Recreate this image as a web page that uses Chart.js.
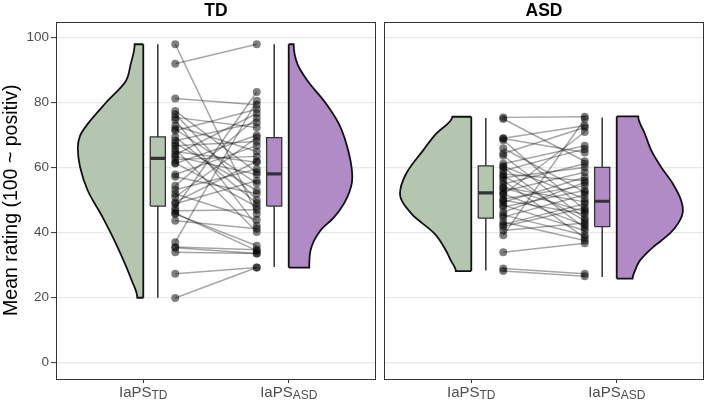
<!DOCTYPE html>
<html>
<head>
<meta charset="utf-8">
<title>Mean rating by group</title>
<script src="https://cdn.jsdelivr.net/npm/chart.js@4.4.1/dist/chart.umd.min.js"></script>
<style>
  html, body { margin: 0; padding: 0; background: #fff; }
  #wrap { position: relative; width: 708px; height: 402px; }
  #wrap canvas { position: absolute; top: 0; }
  #tdPanel { left: 0; }
  #asdPanel { left: 380px; }
</style>
</head>
<body>
<div id="wrap">
  <canvas id="tdPanel" width="380" height="402" style="width:380px;height:402px"></canvas>
  <canvas id="asdPanel" width="328" height="402" style="width:328px;height:402px"></canvas>
</div>
<script>
// Raincloud plot: IaPS ratings for TD and ASD participants

// Axis text
const panelTitles = ['TD', 'ASD'];
const xLabelMain = ['IaPS', 'IaPS'];
const xLabelSub = ['TD', 'ASD'];
const xTickValues = [1, 2];
const ratingTicks = [0, 20, 40, 60, 80, 100];

// Paired mean ratings, TD participants (IaPS_TD -> IaPS_ASD)
const tdRatingTD = [98, 92, 81.3, 77.5, 76.5, 75.5, 74.7, 72.9, 71.9, 71.4,
  69.5, 68.3, 67.5, 66.8, 65.8, 65, 64, 63.5, 62.5, 61.5,
  61.3, 57.9, 57.2, 54.5, 53.2, 52, 51, 49.4, 48.9, 47.6,
  46.8, 46, 45.8, 43.7, 37.1, 35.6, 35.4, 34, 27.4, 19.9];
const tdRatingASD = [45.8, 98, 79.4, 58.6, 50.1, 72.4, 42.2, 65, 55.2, 78,
  49.1, 73.9, 53, 68.1, 40.2, 61.7, 76.7, 57.9, 63.5, 48,
  70, 66.8, 52, 75.3, 59.6, 44, 69.3, 62, 56, 83.3,
  47.1, 34.5, 36, 41.2, 80.6, 34.8, 33.6, 33.6, 29.3, 29.3];

// Paired mean ratings, ASD participants
const asdRatingTD = [75.5, 75, 69.1, 69, 68.5, 66, 64.4, 63.7, 61.2, 60.5,
  60.1, 59.1, 58.1, 57.5, 56.9, 56, 55, 54, 53.8, 52.8,
  52, 51.7, 50.4, 50, 49.4, 48.5, 47.9, 46.3, 45.5, 44.8,
  43.3, 42.5, 41.9, 40.7, 39.2, 34, 29, 28.2];
const asdRatingASD = [75.7, 62, 72.9, 64.7, 47, 52.5, 72.4, 44.5, 66.8, 50.4,
  41.5, 65.8, 56, 43.8, 60.1, 38.5, 61.2, 49.5, 46.5, 58.6,
  42.2, 71, 54.5, 45.8, 57.1, 40.7, 53, 55.5, 39.2, 51.7,
  37.6, 48.9, 47.7, 43, 75, 36.8, 27.4, 26.6];

// Box stats: [lower whisker, q1, median, q3, upper whisker]
const tdBoxTD = [20, 48.2, 62.9, 69.5, 98];
const tdBoxASD = [29.5, 48.2, 58.1, 69.3, 98];
const asdBoxTD = [28.4, 44.5, 52.3, 60.6, 75.3];
const asdBoxASD = [26.4, 41.9, 49.7, 60.1, 75.5];

// Half-violin outlines: rating levels and density half-widths (x units)
const tdViolinTDLevels = [20, 25.4, 35.6, 44.8, 53, 60.3, 65.9, 69.8, 73.5, 80, 86.6, 91.8, 98];
const tdViolinTDWidths = [0.041, 0.08, 0.177, 0.28, 0.382, 0.435, 0.45, 0.435, 0.382, 0.257, 0.121, 0.087, 0.059];
const tdViolinASDLevels = [29.3, 34.6, 40.7, 44.8, 50.9, 57, 64, 73.4, 80, 86.7, 91.8, 98];
const tdViolinASDWidths = [0.141, 0.15, 0.218, 0.312, 0.402, 0.437, 0.416, 0.346, 0.252, 0.13, 0.061, 0.034];
const asdViolinTDLevels = [28.2, 31.5, 34.6, 39.7, 45.8, 52, 58, 65.2, 70.4, 75.7];
const asdViolinTDWidths = [0.106, 0.141, 0.175, 0.252, 0.41, 0.49, 0.45, 0.334, 0.243, 0.13];
const asdViolinASDLevels = [25.9, 28.4, 31.5, 35.6, 39.7, 42.8, 46.8, 49.9, 55, 60.1, 65.2, 70.4, 75.8];
const asdViolinASDWidths = [0.109, 0.126, 0.16, 0.25, 0.364, 0.421, 0.455, 0.443, 0.387, 0.307, 0.239, 0.194, 0.148];

// Layout / style
const X_VIOLIN = [1, 2];
const X_BOX = [1.1, 1.9];
const X_POINT = [1.22, 1.78];
const BOX_HALF = 0.052;
const GREEN = '#b4c6b0';
const PURPLE = '#b08bc5';
const FONT = "'Liberation Sans', Arial, sans-serif";

function violinSets(levels, widths, x0, dir, color) {
  const last = levels.length - 1;
  const outline = [{x: x0, y: levels[0]}]
    .concat(levels.map((y, i) => ({x: x0 + dir * widths[i], y})))
    .concat([{x: x0, y: levels[last]}]);
  return [
    // monotone along the rating axis keeps the outline smooth without overshoot
    {data: outline, indexAxis: 'y', cubicInterpolationMode: 'monotone',
      fill: 'shape', backgroundColor: color, borderColor: '#111', borderWidth: 1.8, order: 8},
    {data: [{x: x0, y: levels[0]}, {x: x0, y: levels[last]}],
      borderColor: '#111', borderWidth: 1.8, order: 7},
  ];
}

function boxSets(stats, xc, color) {
  const [lo, q1, med, q3, hi] = stats;
  const l = xc - BOX_HALF, r = xc + BOX_HALF;
  return [
    {data: [{x: xc, y: lo}, {x: xc, y: q1}], borderColor: '#333', borderWidth: 1.5, order: 6},
    {data: [{x: xc, y: q3}, {x: xc, y: hi}], borderColor: '#333', borderWidth: 1.5, order: 6},
    {data: [{x: l, y: q1}, {x: r, y: q1}, {x: r, y: q3}, {x: l, y: q3}, {x: l, y: q1}],
      fill: 'shape', backgroundColor: color, borderColor: '#333', borderWidth: 1.3, order: 5},
    {data: [{x: l, y: med}, {x: r, y: med}], borderColor: '#333', borderWidth: 3.2, order: 4},
  ];
}

function pairSets(left, right) {
  const lines = left.map((a, i) => ({
    data: [{x: X_POINT[0], y: a}, {x: X_POINT[1], y: right[i]}],
    borderColor: 'rgba(0, 0, 0, 0.35)', borderWidth: 1.5, order: 2,
  }));
  const dots = {
    data: left.map(v => ({x: X_POINT[0], y: v})).concat(right.map(v => ({x: X_POINT[1], y: v}))),
    showLine: false, pointRadius: 4, pointBorderWidth: 0,
    pointBackgroundColor: 'rgba(0, 0, 0, 0.5)', order: 1,
  };
  return lines.concat([dots]);
}

// Panel frame
const panelBorder = {
  id: 'panelBorder',
  afterDraw(chart) {
    const {ctx, chartArea: a} = chart;
    ctx.save();
    ctx.strokeStyle = '#333';
    ctx.lineWidth = 1;
    ctx.strokeRect(Math.round(a.left) + 0.5, Math.round(a.top) + 0.5,
      Math.round(a.width) - 1, Math.round(a.height) - 1);
    ctx.restore();
  }
};

// x labels with subscripts (IaPS_TD, IaPS_ASD)
const subLabels = {
  id: 'subLabels',
  afterDraw(chart) {
    const {ctx, scales: {x}, chartArea} = chart;
    const base = chartArea.bottom + 17.5;
    xTickValues.forEach((v, i) => {
      const px = x.getPixelForValue(v);
      ctx.save();
      ctx.fillStyle = '#4d4d4d';
      ctx.textBaseline = 'alphabetic';
      ctx.textAlign = 'left';
      ctx.font = '15px ' + FONT;
      const wMain = ctx.measureText(xLabelMain[i]).width;
      ctx.font = '12px ' + FONT;
      const wSub = ctx.measureText(xLabelSub[i]).width;
      const start = px - (wMain + wSub) / 2;
      ctx.font = '15px ' + FONT;
      ctx.fillText(xLabelMain[i], start, base);
      ctx.font = '12px ' + FONT;
      ctx.fillText(xLabelSub[i], start + wMain, base + 2.5);
      ctx.restore();
    });
  }
};

function buildPanel(id, title, ratings, boxes, violins, showY) {
  const datasets = []
    .concat(violinSets(violins[0][0], violins[0][1], X_VIOLIN[0], -1, GREEN))
    .concat(violinSets(violins[1][0], violins[1][1], X_VIOLIN[1], 1, PURPLE))
    .concat(boxSets(boxes[0], X_BOX[0], GREEN))
    .concat(boxSets(boxes[1], X_BOX[1], PURPLE))
    .concat(pairSets(ratings[0], ratings[1]));

  new Chart(document.getElementById(id), {
    type: 'line',
    data: {datasets},
    plugins: [panelBorder, subLabels],
    options: {
      responsive: false,
      animation: false,
      events: [],
      layout: {padding: showY ? {left: 0, right: 2} : {left: 4, right: 2}},
      elements: {
        point: {radius: 0},
        line: {tension: 0, fill: false},
      },
      plugins: {
        legend: {display: false},
        tooltip: {enabled: false},
        title: {
          display: true,
          text: title,
          fullSize: false,
          color: '#000',
          font: {family: FONT, size: 17.5, weight: 'bold', lineHeight: 1.0},
          padding: {top: 2, bottom: 2},
        },
      },
      scales: {
        x: {
          type: 'linear',
          min: 0.4,
          max: 2.6,
          offset: false,
          afterBuildTicks: s => { s.ticks = xTickValues.map(v => ({value: v})); },
          afterFit: s => { s.height = 23; },
          border: {display: false},
          grid: {drawOnChartArea: false, drawTicks: true, tickLength: 4, tickColor: '#333', tickWidth: 1},
          ticks: {callback: () => ''},
        },
        y: {
          type: 'linear',
          min: -5,
          max: 105,
          afterBuildTicks: s => { s.ticks = ratingTicks.map(v => ({value: v})); },
          afterFit: s => { s.width = showY ? 56 : 0; },
          border: {display: false},
          grid: {
            color: '#e8e8e8',
            lineWidth: 1.2,
            drawTicks: showY,
            tickLength: 5,
            tickColor: '#333',
            tickWidth: 1,
          },
          ticks: {
            display: showY,
            padding: 2,
            color: '#4d4d4d',
            font: {family: FONT, size: 13.5},
          },
          title: {
            display: showY,
            text: 'Mean rating (100 ~ positiv)',
            color: '#000',
            font: {family: FONT, size: 19.5},
            padding: {top: 0, bottom: 0},
          },
        },
      },
    },
  });
}

buildPanel('tdPanel', panelTitles[0], [tdRatingTD, tdRatingASD], [tdBoxTD, tdBoxASD],
  [[tdViolinTDLevels, tdViolinTDWidths], [tdViolinASDLevels, tdViolinASDWidths]], true);
buildPanel('asdPanel', panelTitles[1], [asdRatingTD, asdRatingASD], [asdBoxTD, asdBoxASD],
  [[asdViolinTDLevels, asdViolinTDWidths], [asdViolinASDLevels, asdViolinASDWidths]], false);
</script>
</body>
</html>
